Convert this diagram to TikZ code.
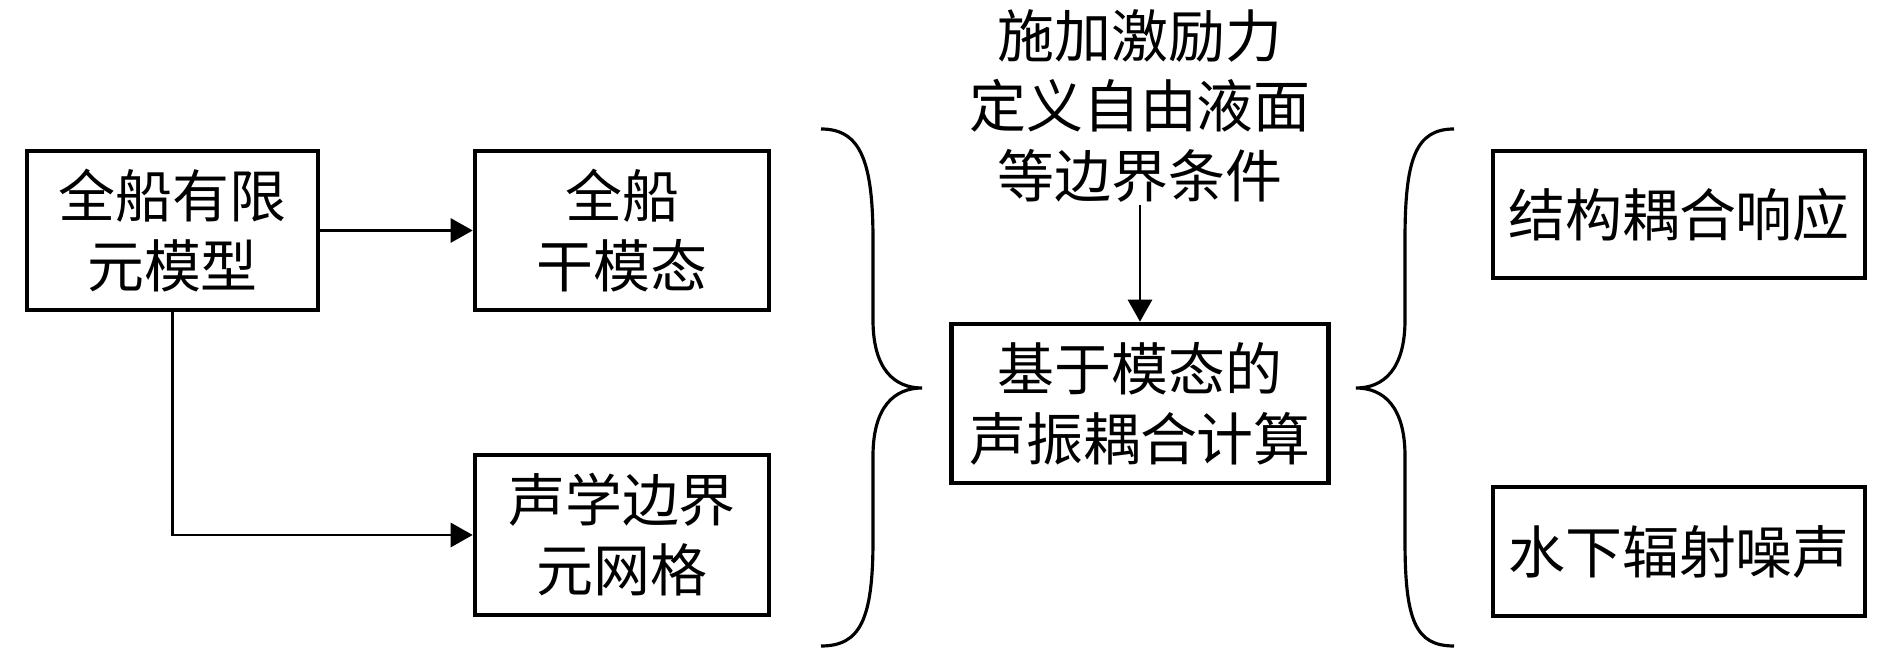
\documentclass[tikz,border=0pt]{standalone}
\usepackage{fontspec}
\newfontfamily\cjkfont{Noto Sans CJK SC}
\usetikzlibrary{positioning}
\usetikzlibrary{arrows.meta}

\tikzset{
  box/.style={draw=black, line width=1.3pt, inner sep=0pt, align=center, font=\cjkfont\fontsize{16.2pt}{19.9pt}\selectfont},
  lnk/.style={draw=black, line width=0.8pt, -{Triangle[length=2.2mm, width=2.4mm]}},
  brc/.style={draw=black, line width=0.9pt}
}

\begin{document}
\begin{tikzpicture}
    \useasboundingbox (0,0) rectangle (18.9,-6.59);
    \node[box, minimum width=2.91cm, minimum height=1.59cm] (Nfem) at (1.725,-2.305) {全船有限\\元模型};
    \node[box, minimum width=2.94cm, minimum height=1.59cm] (Ndry) at (6.22,-2.305) {全船\\干模态};
    \node[box, minimum width=2.94cm, minimum height=1.60cm] (Nbem) at (6.22,-5.35) {声学边界\\元网格};
    \draw [lnk] (Nfem) -- (Ndry);
    \draw [lnk] (Nfem.south) |- (Nbem.west);
    % left brace
    \draw [brc] (8.21,-1.29) .. controls (8.60,-1.29) and (8.73,-1.60) .. (8.73,-2.40) -- (8.73,-3.20)
        .. controls (8.73,-3.70) and (8.95,-3.88) .. (9.22,-3.88)
        .. controls (8.95,-3.88) and (8.73,-4.06) .. (8.73,-4.56) -- (8.73,-5.40)
        .. controls (8.73,-6.20) and (8.60,-6.46) .. (8.21,-6.46);
    \node[box, draw=none] (Nbc) at (11.40,-1.06) {施加激励力\\定义自由液面\\等边界条件};
    \node[box, minimum width=3.77cm, minimum height=1.59cm] (Ncalc) at (11.40,-4.035) {基于模态的\\声振耦合计算};
    \draw [lnk] (Nbc.south) -- (Ncalc.north);
    % right brace
    \draw [brc] (14.54,-1.29) .. controls (14.15,-1.29) and (14.05,-1.60) .. (14.05,-2.40) -- (14.05,-3.20)
        .. controls (14.05,-3.70) and (13.83,-3.88) .. (13.56,-3.88)
        .. controls (13.83,-3.88) and (14.05,-4.06) .. (14.05,-4.56) -- (14.05,-5.40)
        .. controls (14.05,-6.20) and (14.15,-6.46) .. (14.54,-6.46);
    \node[box, minimum width=3.72cm, minimum height=1.27cm] (Nresp) at (16.79,-2.145) {结构耦合响应};
    \node[box, minimum width=3.72cm, minimum height=1.29cm] (Nnoise) at (16.79,-5.515) {水下辐射噪声};
\end{tikzpicture}
\end{document}
